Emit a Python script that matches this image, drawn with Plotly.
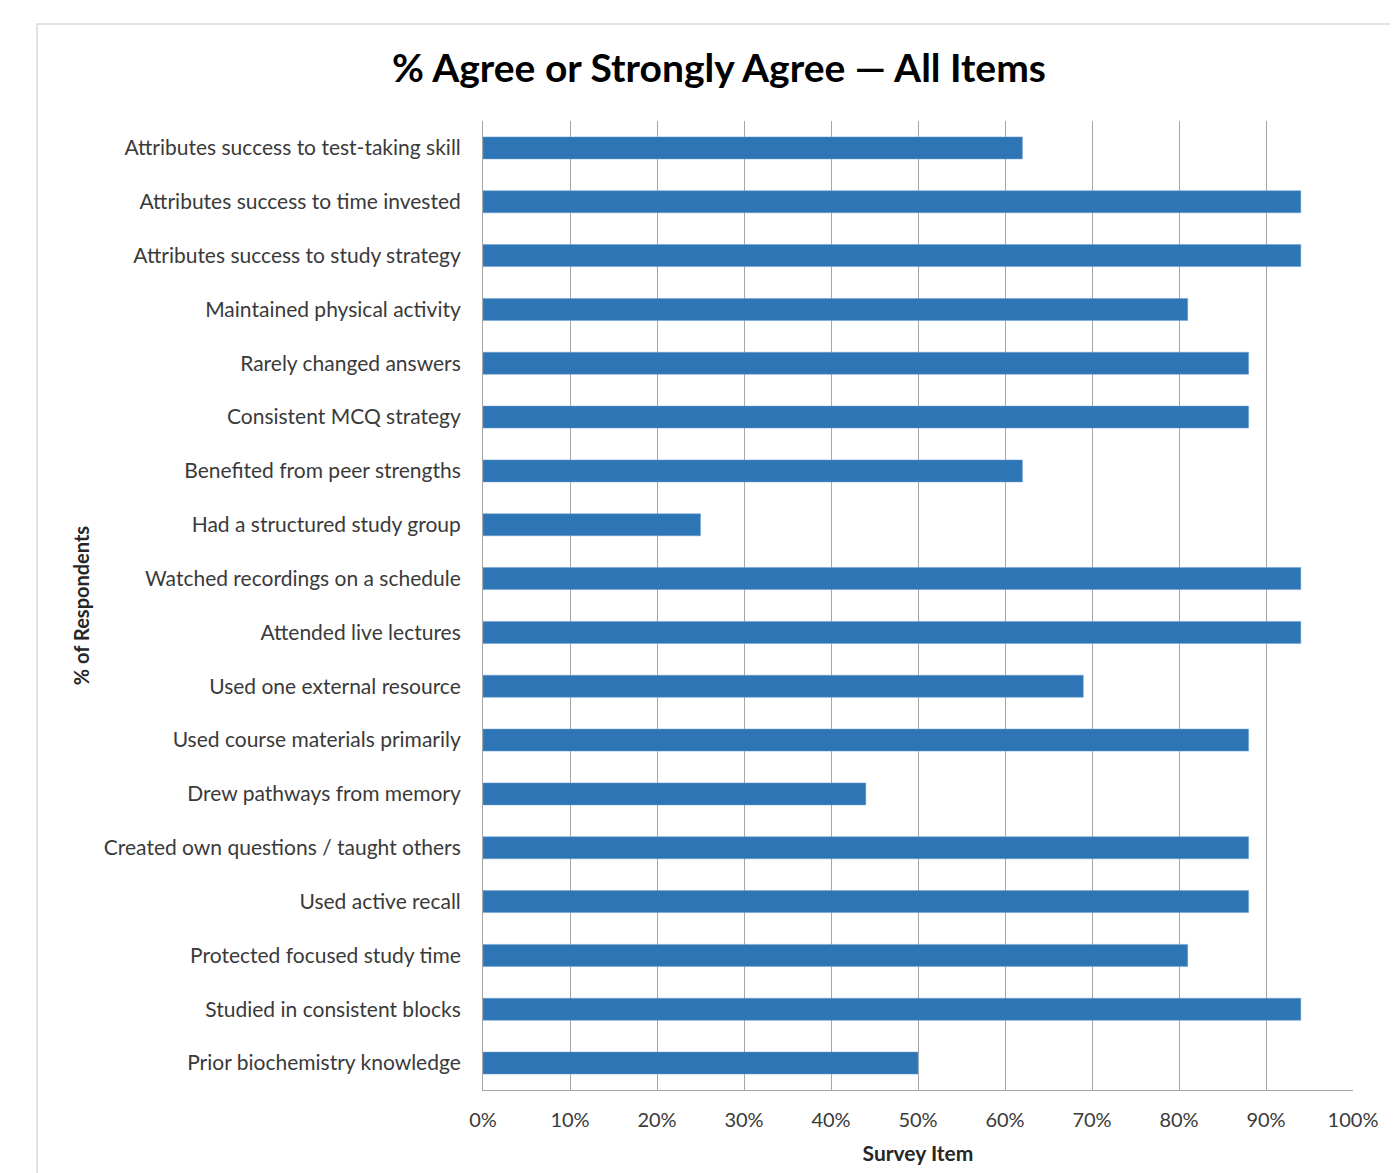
import plotly.graph_objects as go

categories = [
    "Attributes success to test-taking skill",
    "Attributes success to time invested",
    "Attributes success to study strategy",
    "Maintained physical activity",
    "Rarely changed answers",
    "Consistent MCQ strategy",
    "Benefited from peer strengths",
    "Had a structured study group",
    "Watched recordings on a schedule",
    "Attended live lectures",
    "Used one external resource",
    "Used course materials primarily",
    "Drew pathways from memory",
    "Created own questions / taught others",
    "Used active recall",
    "Protected focused study time",
    "Studied in consistent blocks",
    "Prior biochemistry knowledge",
]
values = [62, 94, 94, 81, 88, 88, 62, 25, 94, 94, 69, 88, 44, 88, 88, 81, 94, 50]
tick_vals = [0, 10, 20, 30, 40, 50, 60, 70, 80, 90, 100]
tick_text = ["0%", "10%", "20%", "30%", "40%", "50%", "60%", "70%", "80%", "90%", "100%"]

FONT = "Lato"
OFF = 8  # page body margin
W, H = 1398 - OFF, 1173 - OFF
L, R, T, B = 483 - OFF, 1353 - OFF, 121 - OFF, 1090 - OFF

fig = go.Figure(go.Bar(
    x=values, y=categories, orientation="h",
    marker=dict(color="#2E75B6", line=dict(color="#6fa0d0", width=0.5)),
    width=0.41,
))

def px_x(p):
    return (p - OFF - L) / (R - L)

def px_y(p):
    return (B - (p - OFF)) / (B - T)

fig.update_layout(
    width=W, height=H,
    margin=dict(l=L, r=W - R, t=T, b=H - B, autoexpand=False),
    paper_bgcolor="white", plot_bgcolor="white",
    showlegend=False,
    title=dict(text="<b>% Agree or Strongly Agree — All Items</b>",
               x=(719 - OFF) / W, xanchor="center", y=1 - (68 - OFF) / H, yanchor="middle",
               font=dict(family=FONT, size=39, color="#000000")),
    font=dict(family=FONT),
    shapes=[
        dict(type="rect", xref="paper", yref="paper",
             x0=px_x(37), x1=px_x(1500), y0=px_y(1300), y1=px_y(24),
             line=dict(color="#d9d9d9", width=1.5), fillcolor="rgba(0,0,0,0)", layer="below"),
    ],
)

fig.update_xaxes(
    range=[0, 100], tickvals=tick_vals, ticktext=tick_text,
    showgrid=True, gridcolor="#a6a6a6", gridwidth=1,
    showline=True, linecolor="#a6a6a6", linewidth=1, mirror=False,
    zeroline=False, ticks="", ticklabelstandoff=12,
    tickfont=dict(family=FONT, size=20, color="#3a3a3a"),
    title=dict(text="<b>Survey Item</b>", standoff=16,
               font=dict(family=FONT, size=21, color="#262626")),
    fixedrange=True,
)
fig.update_yaxes(
    autorange="reversed", showgrid=False,
    showline=True, linecolor="#a6a6a6", linewidth=1,
    ticks="", ticklabelstandoff=17,
    tickfont=dict(family=FONT, size=21, color="#3a3a3a"),
    title=dict(text="<b>% of Respondents</b>", standoff=8,
               font=dict(family=FONT, size=20, color="#262626")),
    fixedrange=True,
)

fig.write_html("out.html")
